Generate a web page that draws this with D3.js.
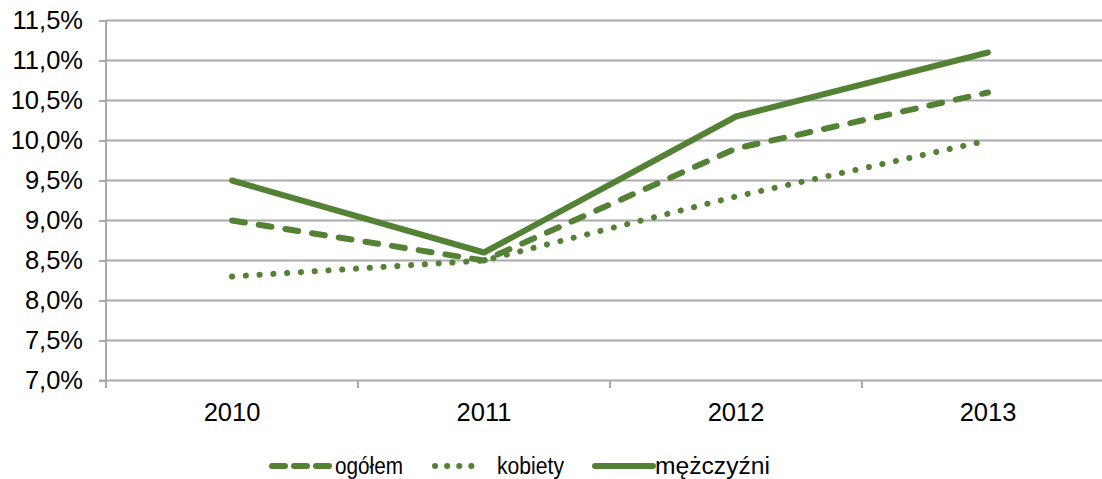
<!DOCTYPE html>
<html>
<head>
<meta charset="utf-8">
<script src="https://cdn.jsdelivr.net/npm/d3@7"></script>
<style>
  body { margin: 0; background: #fff; }
  svg { display: block; font-family: "Liberation Sans", Arial, sans-serif; }
</style>
</head>
<body>
<div id="chart"></div>
<script>
var width = 1102;
var height = 479;

// data
var years = ["2010", "2011", "2012", "2013"];
var ogolem = [9.0, 8.5, 9.9, 10.6];
var kobiety = [8.3, 8.5, 9.3, 10.0];
var mezczyzni = [9.5, 8.6, 10.3, 11.1];
var yTicks = [7.0, 7.5, 8.0, 8.5, 9.0, 9.5, 10.0, 10.5, 11.0, 11.5];

var green = "#548235";
var gridColor = "#aaaaaa";

var series = [
  { name: "ogółem", values: ogolem, dash: "13,14", legendDash: "13,9", width: 6 },
  { name: "kobiety", values: kobiety, dash: "0.1,13.7", legendDash: "0.1,12", width: 6 },
  { name: "mężczyźni", values: mezczyzni, dash: null, legendDash: null, width: 6 }
];

var svg = d3.select("#chart")
  .append("svg")
  .attr("width", width)
  .attr("height", height);

var x = d3.scaleBand().domain(years).range([106, 1114]).padding(0);
var y = d3.scaleLinear().domain([7, 11.5]).range([380.5, 20.5]);

// gridlines
svg.append("g")
  .selectAll("line")
  .data(yTicks.slice(1))
  .enter()
  .append("line")
  .attr("x1", 106)
  .attr("x2", width)
  .attr("y1", function(d) { return y(d); })
  .attr("y2", function(d) { return y(d); })
  .attr("stroke", gridColor)
  .attr("stroke-width", 2);

// y axis
var yAxis = d3.axisLeft(y)
  .tickValues(yTicks)
  .tickSize(7)
  .tickPadding(16)
  .tickFormat(function(d) { return d3.format(".1f")(d).replace(".", ",") + "%"; });

var gy = svg.append("g")
  .attr("transform", "translate(106,0)")
  .call(yAxis);
gy.select(".domain").remove();
gy.selectAll(".tick line").attr("stroke", gridColor).attr("stroke-width", 2);
gy.selectAll(".tick text")
  .attr("fill", "#000")
  .attr("font-size", 25.5)
  .attr("font-family", "Liberation Sans, Arial, sans-serif");
gy.append("line")
  .attr("x1", 0).attr("x2", 0)
  .attr("y1", y(11.5)).attr("y2", 388)
  .attr("stroke", gridColor).attr("stroke-width", 2);

// x axis
svg.append("line")
  .attr("x1", 99).attr("x2", width)
  .attr("y1", y(7)).attr("y2", y(7))
  .attr("stroke", gridColor).attr("stroke-width", 2);

svg.append("g")
  .selectAll("line")
  .data(years.slice(1))
  .enter()
  .append("line")
  .attr("x1", function(d) { return x(d); })
  .attr("x2", function(d) { return x(d); })
  .attr("y1", y(7))
  .attr("y2", 388)
  .attr("stroke", gridColor)
  .attr("stroke-width", 2);

svg.append("g")
  .selectAll("text")
  .data(years)
  .enter()
  .append("text")
  .attr("x", function(d) { return x(d) + x.bandwidth() / 2; })
  .attr("y", 421)
  .attr("text-anchor", "middle")
  .attr("font-size", 25.5)
  .text(function(d) { return d; });

// lines
var line = d3.line()
  .x(function(d, i) { return x(years[i]) + x.bandwidth() / 2; })
  .y(function(d) { return y(d); });

svg.append("g")
  .selectAll("path")
  .data(series)
  .enter()
  .append("path")
  .attr("d", function(s) { return line(s.values); })
  .attr("fill", "none")
  .attr("stroke", green)
  .attr("stroke-width", function(s) { return s.width; })
  .attr("stroke-linecap", "round")
  .attr("stroke-linejoin", "round")
  .attr("stroke-dasharray", function(s) { return s.dash; });

// legend
var legendItems = [
  { s: series[0], x1: 272, x2: 332, tx: 335 },
  { s: series[1], x1: 435, x2: 482, tx: 497 },
  { s: series[2], x1: 595, x2: 653, tx: 655 }
];
var legend = svg.append("g");
legend.selectAll("line")
  .data(legendItems)
  .enter()
  .append("line")
  .attr("x1", function(d) { return d.x1; })
  .attr("x2", function(d) { return d.x2; })
  .attr("y1", 466)
  .attr("y2", 466)
  .attr("stroke", green)
  .attr("stroke-width", function(d) { return d.s.width; })
  .attr("stroke-linecap", "round")
  .attr("stroke-dasharray", function(d) { return d.s.legendDash; });
legend.selectAll("text")
  .data(legendItems)
  .enter()
  .append("text")
  .attr("x", function(d) { return d.tx; })
  .attr("y", 474)
  .attr("font-size", 23)
  .attr("textLength", function(d, i) { return [68, 67, 115][i]; })
  .attr("lengthAdjust", "spacingAndGlyphs")
  .text(function(d) { return d.s.name; });
</script>
</body>
</html>
